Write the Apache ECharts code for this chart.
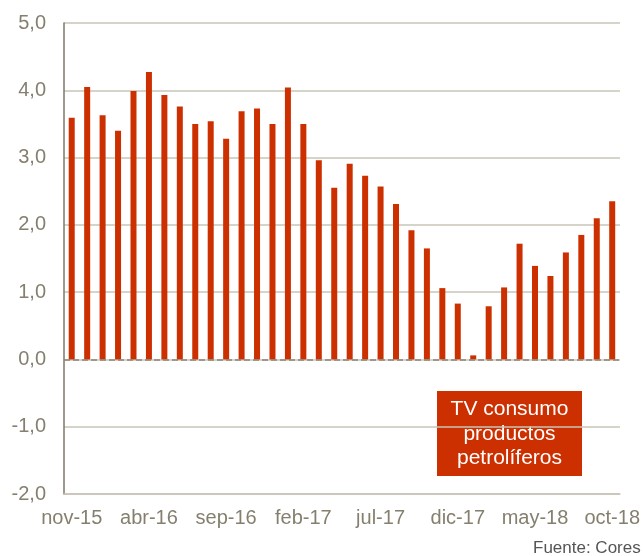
<!DOCTYPE html>
<html>
<head>
<meta charset="utf-8">
<script src="https://cdn.jsdelivr.net/npm/echarts@6/dist/echarts.min.js"></script>
<style>
  html, body { margin: 0; padding: 0; background: #fff; }
  #chart { width: 643px; height: 556px; }
</style>
</head>
<body>
<div id="chart"></div>
<script>
// meses nov-15 ... oct-18
const months = [
  'nov-15', 'dic-15', 'ene-16', 'feb-16', 'mar-16', 'abr-16', 'may-16', 'jun-16', 'jul-16', 'ago-16',
  'sep-16', 'oct-16', 'nov-16', 'dic-16', 'ene-17', 'feb-17', 'mar-17', 'abr-17', 'may-17', 'jun-17',
  'jul-17', 'ago-17', 'sep-17', 'oct-17', 'nov-17', 'dic-17', 'ene-18', 'feb-18', 'mar-18', 'abr-18',
  'may-18', 'jun-18', 'jul-18', 'ago-18', 'sep-18', 'oct-18'
]
// TV consumo productos petrolíferos (%)
const tvConsumo = [
  3.59, 4.05, 3.63, 3.40, 3.99, 4.27, 3.93, 3.76, 3.50, 3.54,
  3.28, 3.69, 3.73, 3.50, 4.04, 3.50, 2.96, 2.55, 2.91, 2.73,
  2.57, 2.31, 1.92, 1.65, 1.06, 0.83, 0.06, 0.79, 1.07, 1.72,
  1.39, 1.24, 1.59, 1.85, 2.10, 2.35
]
const yTicks = { min: -2, max: 5, interval: 1 }

const labelColor = '#857f6e'
const gridColor = '#c9c4b6'

const chart = echarts.init(document.getElementById('chart'))
chart.setOption({
  animation: false,
  textStyle: { fontFamily: 'Liberation Sans, Arial, sans-serif' },
  grid: { left: 64, right: 23, top: 23, bottom: 62 },
  xAxis: {
    type: 'category',
    data: months,
    axisLine: { onZero: false, lineStyle: { color: gridColor, width: 1.5 } },
    axisTick: { show: false },
    axisLabel: {
      interval: 4,
      color: labelColor,
      fontSize: 20,
      margin: 14
    }
  },
  yAxis: {
    type: 'value',
    min: yTicks.min,
    max: yTicks.max,
    interval: yTicks.interval,
    axisLine: { show: true, lineStyle: { color: '#7f7766', width: 1.5 } },
    axisTick: { show: false },
    splitLine: { lineStyle: { color: gridColor, width: 1.5 } },
    axisLabel: {
      color: labelColor,
      fontSize: 20,
      margin: 18,
      formatter: (v) => v.toFixed(1).replace('.', ',')
    }
  },
  series: [
    {
      name: 'TV consumo productos petrolíferos',
      type: 'bar',
      barWidth: 6,
      itemStyle: { color: '#cc3000' },
      data: tvConsumo,
      markLine: {
        silent: true,
        symbol: 'none',
        label: { show: false },
        lineStyle: { color: '#8c8577', type: 'dashed', width: 1.5 },
        data: [{ yAxis: 0 }]
      }
    }
  ],
  graphic: [
    {
      type: 'group',
      left: 437,
      top: 391,
      children: [
        {
          type: 'rect',
          shape: { x: 0, y: 0, width: 145, height: 85 },
          style: { fill: '#cc3000' }
        },
        {
          type: 'text',
          x: 72.5,
          y: 43,
          style: {
            text: 'TV consumo\nproductos\npetrolíferos',
            fill: '#fff',
            font: '21px Liberation Sans, Arial, sans-serif',
            align: 'center',
            verticalAlign: 'middle',
            lineHeight: 24.5
          }
        }
      ]
    },
    {
      type: 'text',
      left: 533,
      top: 540,
      style: {
        text: 'Fuente: Cores',
        fill: '#555',
        font: '17px Liberation Sans, Arial, sans-serif'
      }
    }
  ]
})
window.addEventListener('resize', () => {
  chart.resize()
})
</script>
</body>
</html>
